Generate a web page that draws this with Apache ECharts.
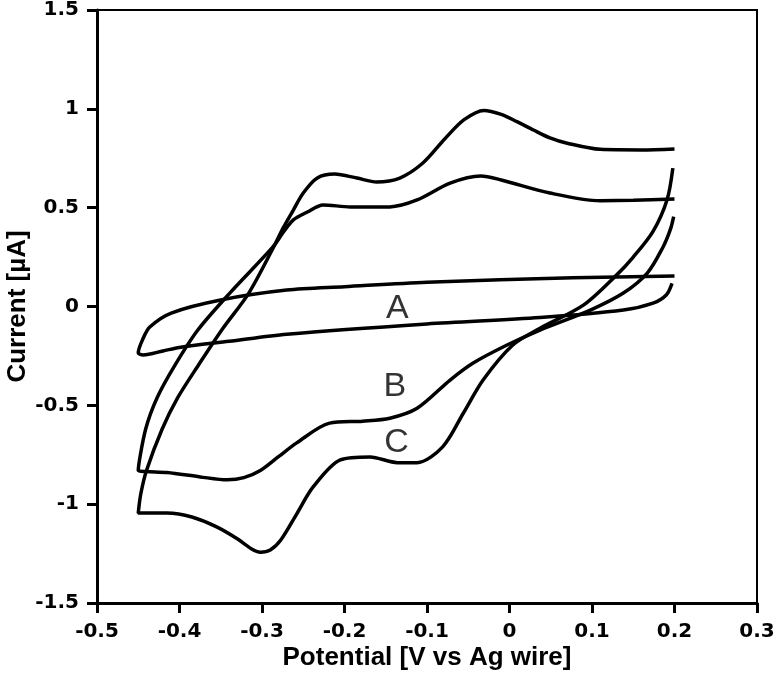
<!DOCTYPE html>
<html>
<head>
<meta charset="utf-8">
<script src="https://cdn.jsdelivr.net/npm/echarts@6/dist/echarts.min.js"></script>
<style>
html,body{margin:0;padding:0;background:#fff;}
#chart{width:777px;height:683px;}
</style>
</head>
<body>
<div id="chart"></div>
<script>
// Curve A
var aPotential = [0.2, 0.077, -0.1, -0.2, -0.27, -0.35, -0.41, -0.436, -0.445, -0.45, -0.444, -0.42, -0.4, -0.34, -0.27, -0.1, 0.037, 0.138, 0.174, 0.19, 0.197];
var aCurrent   = [0.154, 0.145, 0.123, 0.1, 0.083, 0.033, -0.033, -0.104, -0.17, -0.235, -0.245, -0.225, -0.207, -0.176, -0.14, -0.088, -0.056, -0.018, 0.017, 0.058, 0.117];
// Curve B
var bPotential = [0.2, 0.15, 0.11, 0.049, -0.01, -0.035, -0.072, -0.112, -0.145, -0.193, -0.226, -0.245, -0.262, -0.274, -0.287, -0.339, -0.378, -0.406, -0.427, -0.441, -0.45, -0.44, -0.415, -0.375, -0.342, -0.322, -0.302, -0.28, -0.258, -0.218, -0.178, -0.145, -0.112, -0.072, -0.044, -0.003, 0.037, 0.098, 0.138, 0.167, 0.186, 0.195, 0.199];
var bCurrent   = [0.544, 0.537, 0.535, 0.574, 0.64, 0.66, 0.624, 0.539, 0.504, 0.504, 0.514, 0.478, 0.438, 0.377, 0.3, 0.068, -0.12, -0.3, -0.46, -0.62, -0.83, -0.835, -0.84, -0.862, -0.877, -0.866, -0.83, -0.76, -0.69, -0.59, -0.58, -0.565, -0.515, -0.372, -0.286, -0.195, -0.119, -0.018, 0.068, 0.169, 0.3, 0.39, 0.455];
// Curve C
var cPotential = [0.2, 0.16, 0.11, 0.07, 0.049, 0.029, 0.009, -0.01, -0.031, -0.055, -0.078, -0.105, -0.133, -0.161, -0.185, -0.212, -0.233, -0.25, -0.262, -0.274, -0.286, -0.316, -0.349, -0.376, -0.402, -0.421, -0.44, -0.447, -0.45, -0.415, -0.385, -0.355, -0.33, -0.313, -0.302, -0.29, -0.277, -0.258, -0.238, -0.205, -0.169, -0.136, -0.112, -0.081, -0.056, -0.032, 0.004, 0.037, 0.09, 0.13, 0.15, 0.174, 0.191, 0.198];
var cCurrent   = [0.797, 0.792, 0.795, 0.826, 0.853, 0.893, 0.935, 0.972, 0.992, 0.945, 0.85, 0.726, 0.65, 0.63, 0.65, 0.67, 0.65, 0.574, 0.488, 0.4, 0.3, 0.068, -0.12, -0.29, -0.46, -0.62, -0.83, -0.95, -1.045, -1.045, -1.065, -1.115, -1.175, -1.225, -1.243, -1.232, -1.18, -1.05, -0.913, -0.776, -0.761, -0.79, -0.79, -0.71, -0.54, -0.372, -0.195, -0.11, 0.008, 0.16, 0.25, 0.38, 0.54, 0.7];
// Curve annotations
var curveNames = ['A', 'B', 'C'];
var curveLabelPotential = [-0.136, -0.139, -0.137];
var curveLabelCurrent = [-0.01, -0.405, -0.69];
// Axes
var xMin = -0.5, xMax = 0.3, xStep = 0.1;
var yMin = -1.5, yMax = 1.5, yStep = 0.5;
var xTitle = 'Potential [V vs Ag wire]';
var yTitle = 'Current [µA]';

function zip(xs, ys) { return xs.map(function (x, i) { return [x, ys[i]]; }); }
function fmt(v) { return String(+v.toFixed(2)); }

var tickFont = { fontFamily: 'DejaVu Sans', fontWeight: 'bold', fontSize: 20, color: '#000' };
var titleFont = { fontFamily: 'Liberation Sans', fontWeight: 'bold', fontSize: 26, color: '#000' };

function curve(name, xs, ys) {
  return {
    name: name, type: 'line', data: zip(xs, ys), showSymbol: false, symbol: 'none',
    smooth: 0.3, lineStyle: { color: '#000', width: 3.5 }, z: 3
  };
}

var chart = echarts.init(document.getElementById('chart'), null, { renderer: 'canvas' });
chart.setOption({
  animation: false,
  backgroundColor: '#fff',
  grid: { left: 97, right: 20, top: 10, bottom: 80, containLabel: false, outerBoundsMode: 'none', show: true, borderColor: '#000', borderWidth: 2, backgroundColor: 'transparent' },
  xAxis: {
    type: 'value', min: xMin, max: xMax, interval: xStep,
    name: xTitle, nameLocation: 'middle', nameGap: 42, nameMoveOverlap: false, nameTextStyle: titleFont,
    axisLine: { show: true, onZero: false, lineStyle: { color: '#000', width: 3 } },
    axisTick: { show: true, inside: false, length: 10, lineStyle: { color: '#000', width: 3 } },
    axisLabel: Object.assign({ margin: 19, formatter: fmt }, tickFont),
    splitLine: { show: false }
  },
  yAxis: {
    type: 'value', min: yMin, max: yMax, interval: yStep,
    name: yTitle, nameLocation: 'middle', nameGap: 66, nameMoveOverlap: false, nameTextStyle: titleFont,
    axisLine: { show: true, onZero: false, lineStyle: { color: '#000', width: 3 } },
    axisTick: { show: true, inside: false, length: 10, lineStyle: { color: '#000', width: 3 } },
    axisLabel: Object.assign({ margin: 18, formatter: fmt }, tickFont),
    splitLine: { show: false }
  },
  series: [
    curve('A', aPotential, aCurrent),
    curve('B', bPotential, bCurrent),
    curve('C', cPotential, cCurrent),
    {
      type: 'scatter', symbolSize: 0, z: 4, silent: true,
      data: curveNames.map(function (n, i) { return { name: n, value: [curveLabelPotential[i], curveLabelCurrent[i]] }; }),
      label: { show: true, position: 'inside', formatter: '{b}', fontFamily: 'Liberation Sans', fontSize: 34, color: '#000' }
    }
  ]
});
</script>
</body>
</html>
